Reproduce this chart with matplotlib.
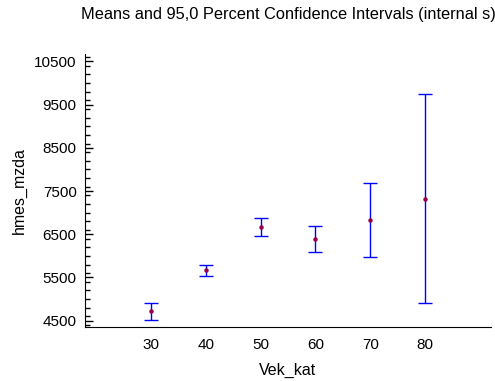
import numpy as np
import matplotlib.pyplot as plt
from matplotlib.ticker import MultipleLocator

# group levels and interval estimates
vek_kat = [30, 40, 50, 60, 70, 80]
means = [4723, 5663, 6680, 6395, 6826, 7311]
lower = [4523, 5540, 6456, 6087, 5971, 4908]
upper = [4908, 5786, 6888, 6703, 7681, 9745]

plt.rcParams['font.family'] = ['Liberation Sans', 'DejaVu Sans']

fig = plt.figure(figsize=(4.95, 3.81), dpi=100)
ax = fig.add_axes([0.1717, 0.1417, 0.8203, 0.7163])

m = np.array(means)
yerr = [m - np.array(lower), np.array(upper) - m]
ax.errorbar(vek_kat, means, yerr=yerr, fmt='none', ecolor='#0000ff',
            elinewidth=1, capsize=5, capthick=1)
ax.plot(vek_kat, means, 'o', color='#990044', markersize=2.2)

ax.set_xlim(18, 92)
ax.set_ylim(4354, 10670)
ax.set_xticks(vek_kat)
ax.set_yticks(np.arange(4500, 10501, 1000))
ax.yaxis.set_minor_locator(MultipleLocator(200))

ax.spines['top'].set_visible(False)
ax.spines['right'].set_visible(False)
# ticks point into the plot on the y axis, none on the x axis
ax.tick_params(axis='y', which='major', direction='in', length=6, width=1,
               labelsize=11, pad=6)
ax.tick_params(axis='y', which='minor', direction='in', length=3.5, width=1)
ax.tick_params(axis='x', length=0, labelsize=11, pad=8)

ax.set_xlabel('Vek_kat', fontsize=11.5, labelpad=8)
ax.set_ylabel('hmes_mzda', fontsize=11.5, labelpad=5)
fig.text(288 / 495, 1 - 15 / 381,
         'Means and 95,0 Percent Confidence Intervals (internal s)',
         ha='center', va='center', fontsize=11.8)

fig.savefig('out.png', dpi=100)
